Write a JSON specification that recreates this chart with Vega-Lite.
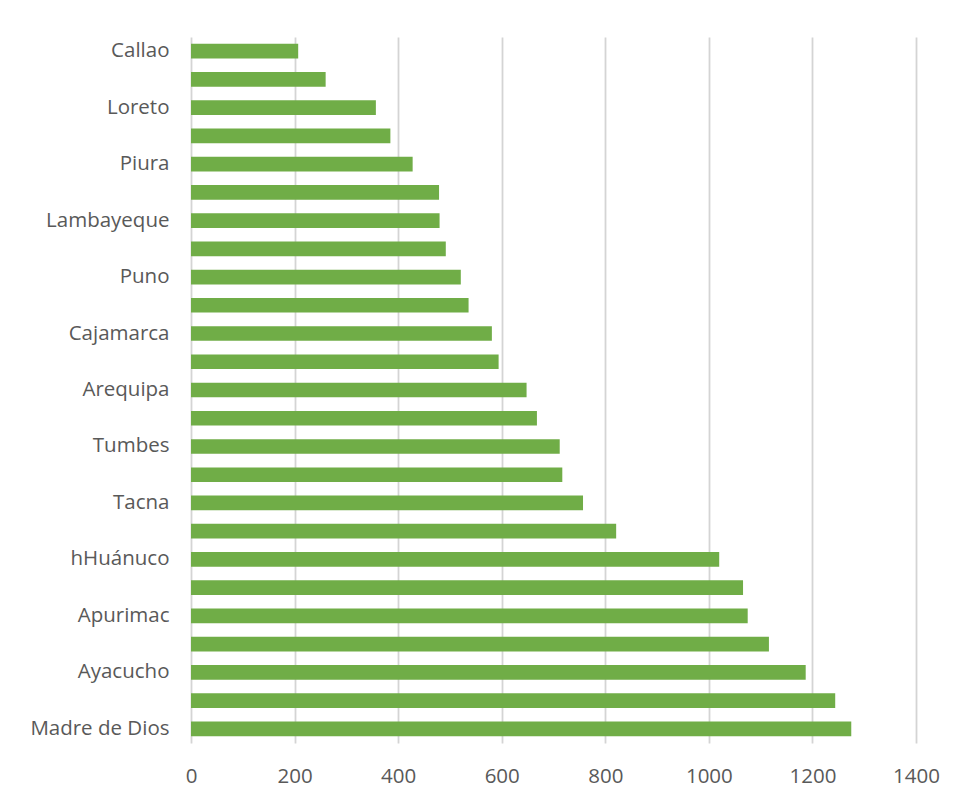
{
  "$schema": "https://vega.github.io/schema/vega-lite/v6.json",
  "autosize": {"type": "none"},
  "padding": {"left": 191, "top": 37, "right": 44, "bottom": 60},
  "width": 725,
  "height": 706,
  "background": "white",
  "data": {
    "values": [
      {"region": "Callao", "value": 207},
      {"region": "Lima", "value": 260},
      {"region": "Loreto", "value": 357},
      {"region": "Ica", "value": 385},
      {"region": "Piura", "value": 428},
      {"region": "Moquegua", "value": 479},
      {"region": "Lambayeque", "value": 480},
      {"region": "La Libertad", "value": 492},
      {"region": "Puno", "value": 521},
      {"region": "Junín", "value": 536},
      {"region": "Cajamarca", "value": 581},
      {"region": "San Martín", "value": 594},
      {"region": "Arequipa", "value": 648},
      {"region": "Ucayali", "value": 668},
      {"region": "Tumbes", "value": 712},
      {"region": "Amazonas", "value": 717},
      {"region": "Tacna", "value": 757},
      {"region": "Áncash", "value": 821},
      {"region": "hHuánuco", "value": 1020},
      {"region": "Cusco", "value": 1066},
      {"region": "Apurimac", "value": 1075},
      {"region": "Pasco", "value": 1116},
      {"region": "Ayacucho", "value": 1187},
      {"region": "Huancavelica", "value": 1244},
      {"region": "Madre de Dios", "value": 1275}
    ]
  },
  "mark": {"type": "bar", "color": "#70AD47"},
  "encoding": {
    "y": {
      "field": "region",
      "type": "nominal",
      "sort": null,
      "scale": {"paddingInner": 0.48, "paddingOuter": 0.24},
      "axis": {
        "title": null,
        "values": ["Callao", "Loreto", "Piura", "Lambayeque", "Puno", "Cajamarca", "Arequipa", "Tumbes", "Tacna", "hHuánuco", "Apurimac", "Ayacucho", "Madre de Dios"],
        "domain": false,
        "ticks": false,
        "labelPadding": 22,
        "labelFont": "Open Sans",
        "labelFontSize": 20.5,
        "labelColor": "#595959"
      }
    },
    "x": {
      "field": "value",
      "type": "quantitative",
      "scale": {"domain": [0, 1400], "nice": false},
      "axis": {
        "title": null,
        "values": [0, 200, 400, 600, 800, 1000, 1200, 1400],
        "format": "d",
        "domain": false,
        "ticks": false,
        "grid": true,
        "gridColor": "#d4d4d4",
        "gridWidth": 1.8,
        "labelPadding": 23,
        "labelFont": "Open Sans",
        "labelFontSize": 20.5,
        "labelColor": "#595959",
        "labelFlush": false
      }
    }
  },
  "config": {"view": {"stroke": null}}
}
